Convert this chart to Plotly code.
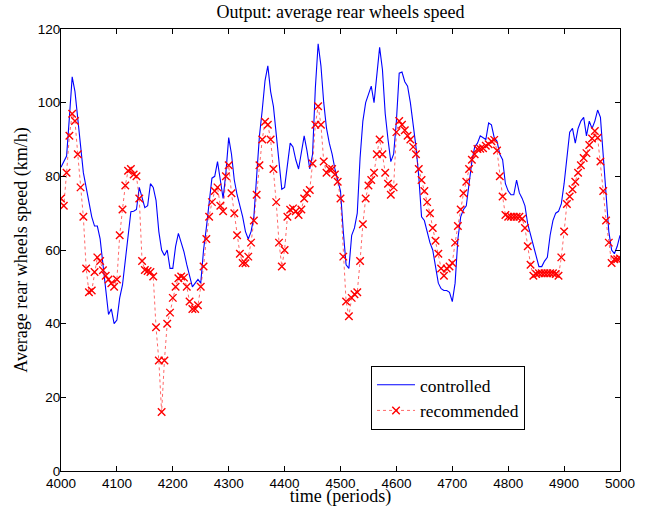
import plotly.graph_objects as go

# time axis (periods), sampled every 5 periods
time = list(range(4000, 5001, 5))

controlled = [
    82.5, 84, 85.5, 96, 107, 103, 95, 88, 81, 77,
    73, 69, 66.5, 66.5, 63, 56, 49, 42.5, 44, 40,
    41, 47, 50.5, 57, 65, 70.4, 70.5, 71, 77, 74,
    71.5, 72, 78, 77, 73.5, 65, 60, 58.5, 60, 55,
    55, 61, 64.5, 62, 59.5, 56, 53, 50, 51, 52,
    51, 60, 66, 73, 79.5, 80, 84, 79, 74, 81,
    90.5, 86, 79, 75, 72, 69, 65, 63, 65, 69,
    80, 91, 98, 106, 110, 103, 99, 91, 85, 76.5,
    77, 83, 89, 88, 84.5, 82, 86, 91, 87, 82,
    86, 104, 116, 110, 100, 93, 89, 86, 82, 79,
    76, 65, 56, 55, 64, 66, 70, 85, 95, 100,
    102, 104.5, 100, 108, 115, 109, 97, 90, 84, 86,
    95, 108, 108.3, 105.7, 104.5, 100, 94, 88, 80, 69,
    68, 65, 62, 60, 55, 51, 49.5, 49, 49, 48.5,
    46, 51, 63, 69, 71, 72, 78, 84, 88, 89,
    91, 90.5, 90, 94.5, 94, 90.5, 89.5, 86, 84.5, 78,
    76, 75, 75, 79, 75.5, 74, 72, 67, 64, 61,
    58, 55.5, 55.5, 57, 58, 64, 68, 70, 70.5, 72.5,
    78, 86, 92, 93, 89, 93, 95, 96, 91, 95,
    93, 95, 98, 96, 86, 74, 65, 60, 59, 61,
    64,
]

recommended = [
    74, 72, 81, 91, 97, 95, 86, 77, 69, 55,
    48.5, 49, 54, 58, 57, 54.5, 53, 52, 51, 50,
    52, 64, 71, 77.5, 81.5, 82, 80.5, 80, 74, 57,
    54.6, 54.3, 54, 52.8, 39, 30, 16, 30, 40, 43,
    47, 50, 52.3, 52.8, 52.5, 50, 46, 44, 44, 45,
    50, 55.5, 63, 69, 73, 76, 77, 72, 70.5, 80,
    83, 75.4, 70, 64, 59, 56.5, 56.4, 58.2, 62, 68,
    75, 83, 90, 94.8, 94, 90, 82, 73, 62, 55.5,
    60, 69, 70.9, 71.3, 70.5, 69.5, 71, 74, 75.4, 76.3,
    83.5, 94, 99, 94, 84, 81, 82, 82, 80.5, 78.5,
    74, 58.2, 46, 42, 47, 48, 48.5, 57, 67, 74,
    77.5, 79, 81, 86, 90, 86, 81, 78, 75, 77,
    92, 95, 94, 92.5, 91, 90, 88, 86, 82, 79,
    76, 73, 70, 66, 62.5, 59, 55, 53, 55, 55.5,
    56.5, 62, 66.5, 71, 75.4, 78.5, 82, 84.5, 86, 87.4,
    87.5, 87.6, 88.3, 88.7, 89.5, 89.9, 87, 80, 74.5, 69.5,
    69, 69, 69, 69, 69, 68.5, 66, 61, 56, 53,
    53.5, 53.7, 53.7, 53.7, 53.7, 53.7, 53.7, 53.5, 53, 58,
    65, 72.5, 74.5, 76.5, 78.5, 81, 83, 85, 86.3, 88.5,
    90.3, 92.3, 90.5, 84, 76, 68, 62, 56.5, 57.5, 57.5,
    57.7,
]

x_ticks = [4000, 4100, 4200, 4300, 4400, 4500, 4600, 4700, 4800, 4900, 5000]
y_ticks = [0, 20, 40, 60, 80, 100, 120]

SERIF = "Liberation Serif, Times New Roman, serif"
SANS = "Liberation Sans, Arial, sans-serif"

fig = go.Figure()
fig.add_trace(go.Scatter(
    x=time, y=controlled, mode="lines", name="controlled",
    line=dict(color="#0000FF", width=1.1),
))
fig.add_trace(go.Scatter(
    x=time, y=recommended, mode="lines+markers", name="recommended",
    line=dict(color="#FF0000", width=0.6, dash="dot"),
    marker=dict(symbol="x-thin-open", size=7.5, color="#FF0000",
                line=dict(color="#FF0000", width=1.4)),
))

axis_common = dict(
    showline=True, linecolor="black", linewidth=1, mirror="ticks",
    ticks="inside", ticklen=5, tickcolor="black", tickwidth=1,
    showgrid=False, zeroline=False, automargin=False,
    tickfont=dict(family=SANS, size=13.5, color="black"),
)

fig.update_layout(
    width=647, height=507,
    margin=dict(l=61, r=27, t=29, b=36),
    paper_bgcolor="white", plot_bgcolor="white",
    title=dict(text="Output: average rear wheels speed",
               font=dict(family=SERIF, size=18, color="black"),
               x=0.5263, xref="container", xanchor="center",
               y=0.976, yanchor="middle"),
    xaxis=dict(range=[4000, 5000], tickvals=x_ticks,
               title=dict(text="time (periods)", standoff=3,
                          font=dict(family=SERIF, size=18, color="black")),
               **axis_common),
    yaxis=dict(range=[0, 120], tickvals=y_ticks, ticklabelstandoff=-3,
               title=dict(text="Average rear wheels speed (km/h)", standoff=5,
                          font=dict(family=SERIF, size=18, color="black")),
               **axis_common),
    legend=dict(x=0.5546, y=0.2376, xanchor="left", yanchor="top",
                bgcolor="white", bordercolor="black", borderwidth=1,
                font=dict(family=SERIF, size=17.4, color="black"),
                tracegroupgap=0, itemwidth=38),
    showlegend=True,
)

# remove the default 8px page margin so the figure sits at the window's corner
fig.write_html("out.html", config={"displayModeBar": False},
               post_script="document.body.style.margin='0';")
